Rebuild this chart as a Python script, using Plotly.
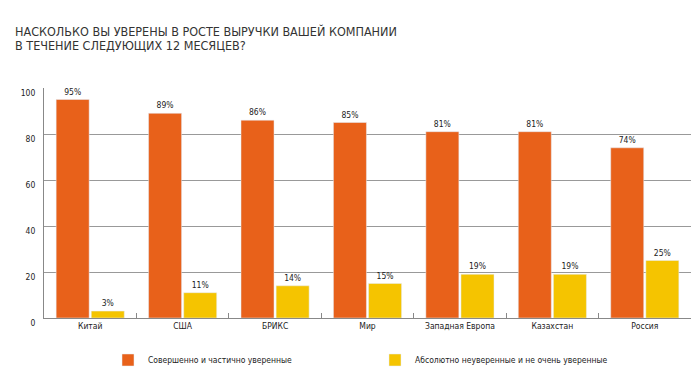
import plotly.graph_objects as go

categories = ["Китай", "США", "БРИКС", "Мир", "Западная Европа", "Казахстан", "Россия"]
confident = [95, 89, 86, 85, 81, 81, 74]
not_confident = [3, 11, 14, 15, 19, 19, 25]
series_names = ["Совершенно и частично уверенные", "Абсолютно неуверенные и не очень уверенные"]
title_lines = ["НАСКОЛЬКО ВЫ УВЕРЕНЫ В РОСТЕ ВЫРУЧКИ ВАШЕЙ КОМПАНИИ", "В ТЕЧЕНИЕ СЛЕДУЮЩИХ 12 МЕСЯЦЕВ?"]

ORANGE = "#E8611A"
YELLOW = "#F5C400"
font_small = dict(family="DejaVu Sans Condensed, Liberation Sans, Arial", size=8.5, color="#222")
title_font = dict(family="DejaVu Sans Condensed", size=12.5, color="#333", weight=300)

L, T, W, H = 44, 88, 647, 230

fig = go.Figure()
fig.add_bar(x=categories, y=confident, name=series_names[0], marker_color=ORANGE,
            text=[f"{v}%" for v in confident], textposition="outside", textfont=font_small,
            cliponaxis=False, legend="legend")
fig.add_bar(x=categories, y=not_confident, name=series_names[1], marker_color=YELLOW,
            text=[f"{v}%" for v in not_confident], textposition="outside", textfont=font_small,
            cliponaxis=False, legend="legend2")

for i, yc in enumerate([31, 45.5]):
    fig.add_annotation(text=title_lines[i], xref="paper", yref="paper", x=(13 - L) / W,
                       xanchor="left", y=(T + H - yc) / H, yanchor="middle", showarrow=False,
                       font=title_font)

leg_common = dict(orientation="h", xref="container", yref="container", yanchor="middle",
                  font=font_small, bgcolor="rgba(0,0,0,0)")

fig.update_layout(
    width=700, height=388,
    margin=dict(l=L, r=700 - L - W, t=T, b=388 - T - H, autoexpand=False),
    paper_bgcolor="white", plot_bgcolor="white",
    barmode="group", bargap=0.24, bargroupgap=0.06,
    font=font_small,
    showlegend=True,
    legend=dict(x=108 / 700, y=1 - 360 / 388, xanchor="left", **leg_common),
    legend2=dict(x=375 / 700, y=1 - 360 / 388, xanchor="left", **leg_common),
    xaxis=dict(showline=True, linecolor="#888", linewidth=1, ticks="inside", tickson="boundaries",
               ticklen=5, tickcolor="#888", tickfont=font_small, showgrid=False, automargin=False),
    yaxis=dict(range=[0, 100], dtick=20, showline=True, linecolor="#888", linewidth=1,
               showgrid=True, gridcolor="#999", gridwidth=1, ticks="", tickfont=font_small,
               ticklabelstandoff=6, ticklabelshift=5, zeroline=False, automargin=False),
)

fig.write_html("out.html", post_script="document.body.style.margin='0';",
               config={"displayModeBar": False})
